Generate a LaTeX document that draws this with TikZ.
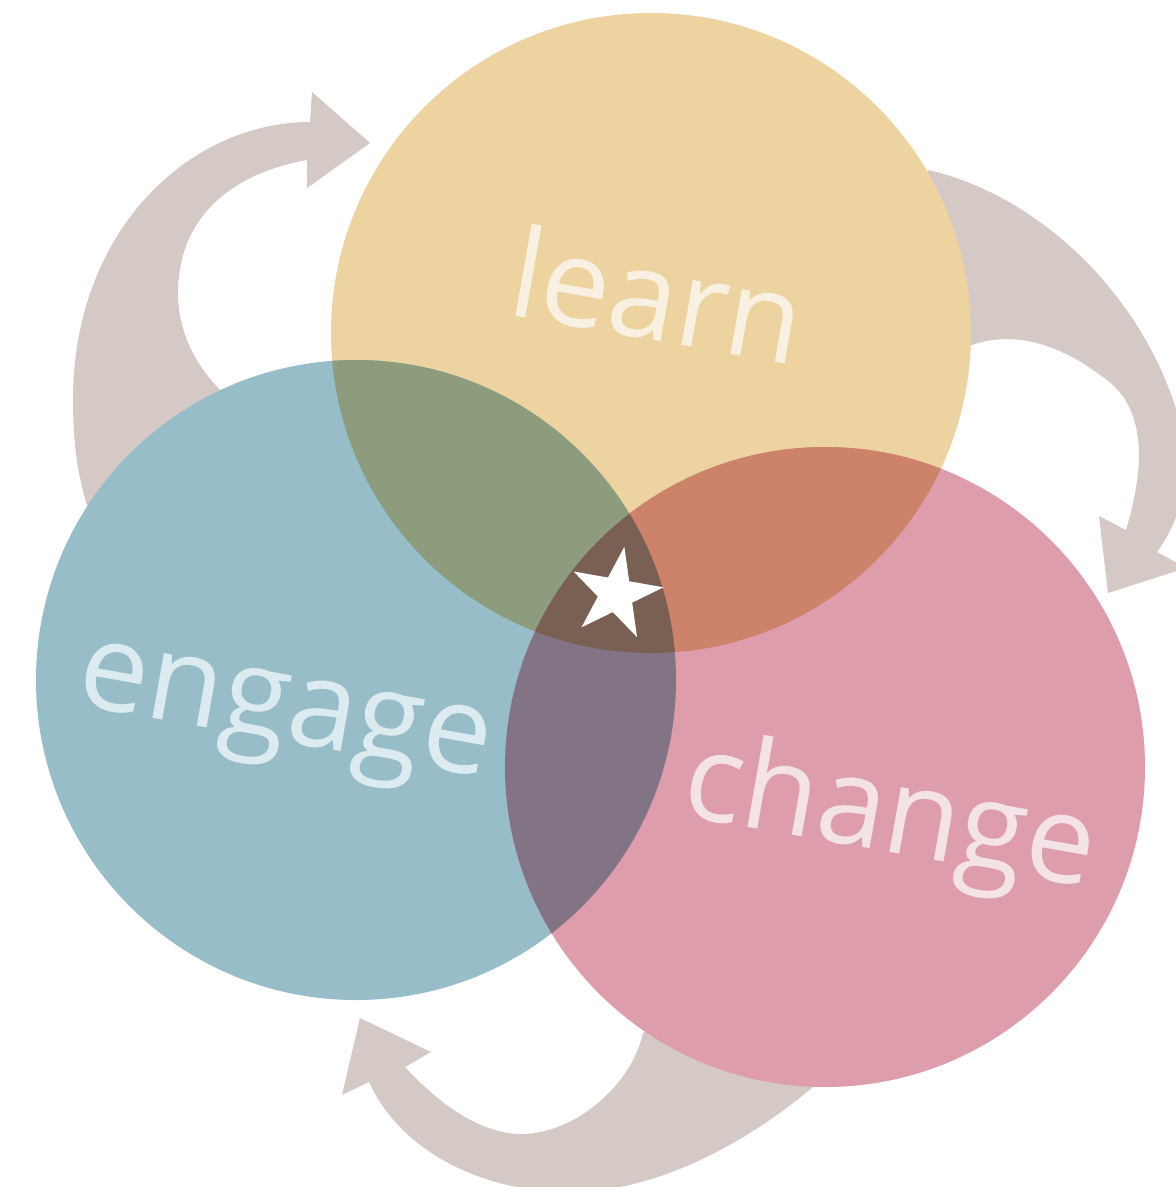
\documentclass[tikz,border=0pt]{standalone}
\usepackage{fontspec}
\setmainfont{Open Sans}
\usetikzlibrary{shapes.geometric}
\definecolor{learnc}{RGB}{236,211,159}
\definecolor{engagec}{RGB}{151,189,200}
\definecolor{changec}{RGB}{222,157,170}
\definecolor{lec}{RGB}{140,156,125}
\definecolor{lcc}{RGB}{205,130,106}
\definecolor{ecc}{RGB}{131,116,133}
\definecolor{allc}{RGB}{121,96,83}
\definecolor{arrowc}{RGB}{212,201,196}
\definecolor{learntxt}{RGB}{248,240,225}
\definecolor{engagetxt}{RGB}{220,235,239}
\definecolor{changetxt}{RGB}{243,226,230}
\begin{document}
\begin{tikzpicture}[x=1pt,y=-1pt,
  lbl/.style={inner sep=0pt, anchor=base, rotate=-10, font=\fontsize{123}{123}\selectfont},
  arrowshape/.style={fill=arrowc}]
\useasboundingbox (0,0) rectangle (1176,1187);
\clip (0,0) rectangle (1176,1187);
\coordinate (learnC) at (651,333);
\coordinate (engageC) at (356,680);
\coordinate (changeC) at (825,767);
% arrows (behind circles)
\fill[arrowshape] (150,560) -- (87,505)
  .. controls (76,470) and (73,435) .. (73,400)
  .. controls (73,230) and (190,122) .. (310,122)
  -- (312,92) -- (370,143) -- (307,188) -- (307,160)
  .. controls (240,172) and (180,210) .. (178,290)
  .. controls (177,330) and (195,365) .. (222,392)
  -- (260,470) -- cycle;
\fill[arrowshape] (900,250) -- (928,170)
  .. controls (1040,195) and (1150,300) .. (1182,430)
  .. controls (1192,480) and (1180,520) .. (1157,552)
  -- (1186,568) -- (1108,593) -- (1099,516) -- (1126,530)
  .. controls (1150,450) and (1140,400) .. (1100,375)
  .. controls (1060,345) and (1015,330) .. (972,345)
  -- (900,380) -- cycle;
\fill[arrowshape] (700,1000) -- (643,1033)
  .. controls (630,1090) and (570,1135) .. (520,1134)
  .. controls (480,1133) and (440,1105) .. (405,1067)
  -- (431,1052) -- (360,1018) -- (342,1095) -- (369,1082)
  .. controls (400,1150) and (480,1192) .. (570,1192)
  .. controls (660,1192) and (750,1140) .. (813,1087)
  -- (800,1000) -- cycle;
% circles
\fill[learnc] (learnC) circle[radius=320pt];
\fill[engagec] (engageC) circle[radius=320pt];
\fill[changec] (changeC) circle[radius=320pt];
\begin{scope}
  \clip (learnC) circle[radius=320pt];
  \fill[lec] (engageC) circle[radius=320pt];
  \fill[lcc] (changeC) circle[radius=320pt];
\end{scope}
\begin{scope}
  \clip (engageC) circle[radius=320pt];
  \fill[ecc] (changeC) circle[radius=320pt];
  \clip (changeC) circle[radius=320pt];
  \fill[allc] (learnC) circle[radius=320pt];
\end{scope}
% labels
\node[lbl, text=learntxt] (learnlbl) at (650,340) {learn};
\node[lbl, text=engagetxt] (engagelbl) at (280,741) {engage};
\node[lbl, text=changetxt] (changelbl) at (884,851) {change};
\node[star, star points=5, star point ratio=2.618, fill=white, inner sep=0pt,
  minimum size=96pt, rotate=-10] (star) at (616,594) {};
\end{tikzpicture}
\end{document}
